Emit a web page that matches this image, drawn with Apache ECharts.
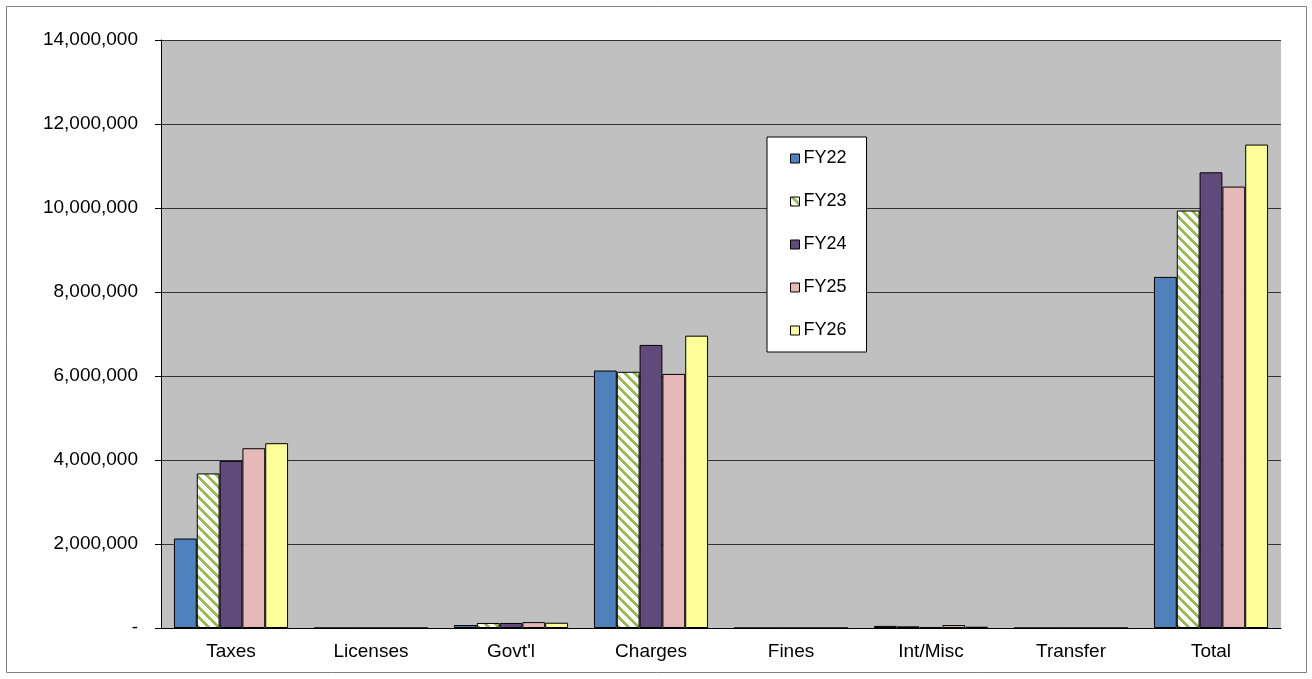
<!DOCTYPE html>
<html>
<head>
<meta charset="utf-8">
<script src="https://cdn.jsdelivr.net/npm/echarts@6/dist/echarts.min.js"></script>
<style>
  html, body { margin: 0; padding: 0; background: #fff; }
  #chart { width: 1312px; height: 679px; }
</style>
</head>
<body>
<div id="chart"></div>
<script>
// Revenue by source, fiscal years 22-26
const categories = ['Taxes', 'Licenses', "Govt'l", 'Charges', 'Fines', 'Int/Misc', 'Transfer', 'Total'];
const seriesNames = ['FY22', 'FY23', 'FY24', 'FY25', 'FY26'];
const fy22 = [2130000, 0, 70000, 6130000, 0, 50000, 0, 8360000];
const fy23 = [3680000, 0, 120000, 6100000, 0, 40000, 0, 9940000];
const fy24 = [3980000, 0, 120000, 6740000, 0, 15000, 0, 10850000];
const fy25 = [4280000, 0, 140000, 6050000, 0, 70000, 0, 10510000];
const fy26 = [4400000, 0, 125000, 6960000, 0, 30000, 0, 11510000];
const yTicks = [0, 2000000, 4000000, 6000000, 8000000, 10000000, 12000000, 14000000];

// White tile with green "\" diagonal stripes
function stripeTile() {
  const n = 10, w = 4;
  const c = document.createElement('canvas');
  c.width = n; c.height = n;
  const ctx = c.getContext('2d');
  const img = ctx.createImageData(n, n);
  for (let y = 0; y < n; y++) {
    for (let x = 0; x < n; x++) {
      const i = (y * n + x) * 4;
      const on = (((x - y) % n) + n) % n < w;
      img.data[i] = on ? 0x9b : 255;
      img.data[i + 1] = on ? 0xbb : 255;
      img.data[i + 2] = on ? 0x59 : 255;
      img.data[i + 3] = 255;
    }
  }
  ctx.putImageData(img, 0, 0);
  return c;
}

const fills = ['#4F81BD', { image: stripeTile(), repeat: 'repeat' }, '#604A7B', '#E6B9B8', '#FFFF99'];
const values = [fy22, fy23, fy24, fy25, fy26];
const font = 'Arial, "Liberation Sans", sans-serif';

const chart = echarts.init(document.getElementById('chart'), null, { renderer: 'canvas' });
chart.setOption({
  animation: false,
  backgroundColor: '#fff',
  textStyle: { fontFamily: font },
  graphic: [{
    type: 'rect',
    shape: { x: 6.5, y: 6.5, width: 1300, height: 666 },
    style: { fill: 'none', stroke: '#808080', lineWidth: 1 },
    silent: true
  }],
  grid: {
    left: 161, right: 31, top: 40, bottom: 51,
    show: true, backgroundColor: '#C0C0C0', borderWidth: 0
  },
  legend: {
    orient: 'vertical',
    left: 767, top: 137,
    backgroundColor: '#fff',
    borderColor: '#000', borderWidth: 1,
    padding: [12, 20, 12, 23],
    itemWidth: 9, itemHeight: 9,
    itemGap: 24,
    icon: 'rect',
    itemStyle: { borderColor: '#000', borderWidth: 1 },
    textStyle: { fontSize: 18, color: '#000', lineHeight: 19, padding: [0, 0, 0, -1] },
    data: seriesNames
  },
  xAxis: {
    type: 'category',
    data: categories,
    axisLine: { lineStyle: { color: '#000', width: 1 } },
    axisTick: { inside: true, length: 6, lineStyle: { color: '#000' } },
    axisLabel: { color: '#000', fontSize: 19, margin: 14 },
    splitLine: { show: false }
  },
  yAxis: {
    type: 'value',
    min: yTicks[0], max: yTicks[yTicks.length - 1], interval: 2000000,
    axisLine: { show: true, lineStyle: { color: '#000', width: 1 } },
    axisTick: { show: true, length: 6, lineStyle: { color: '#000' } },
    axisLabel: {
      color: '#000', fontSize: 19, margin: 23,
      formatter: v => v === 0 ? '-' : v.toLocaleString('en-US')
    },
    splitLine: { lineStyle: { color: '#333', width: 1 } }
  },
  series: seriesNames.map((name, i) => ({
    name,
    type: 'bar',
    data: values[i],
    barGap: '0%',
    barCategoryGap: '18.5%',
    itemStyle: { color: fills[i], borderColor: '#000', borderWidth: 1 }
  }))
});
</script>
</body>
</html>
